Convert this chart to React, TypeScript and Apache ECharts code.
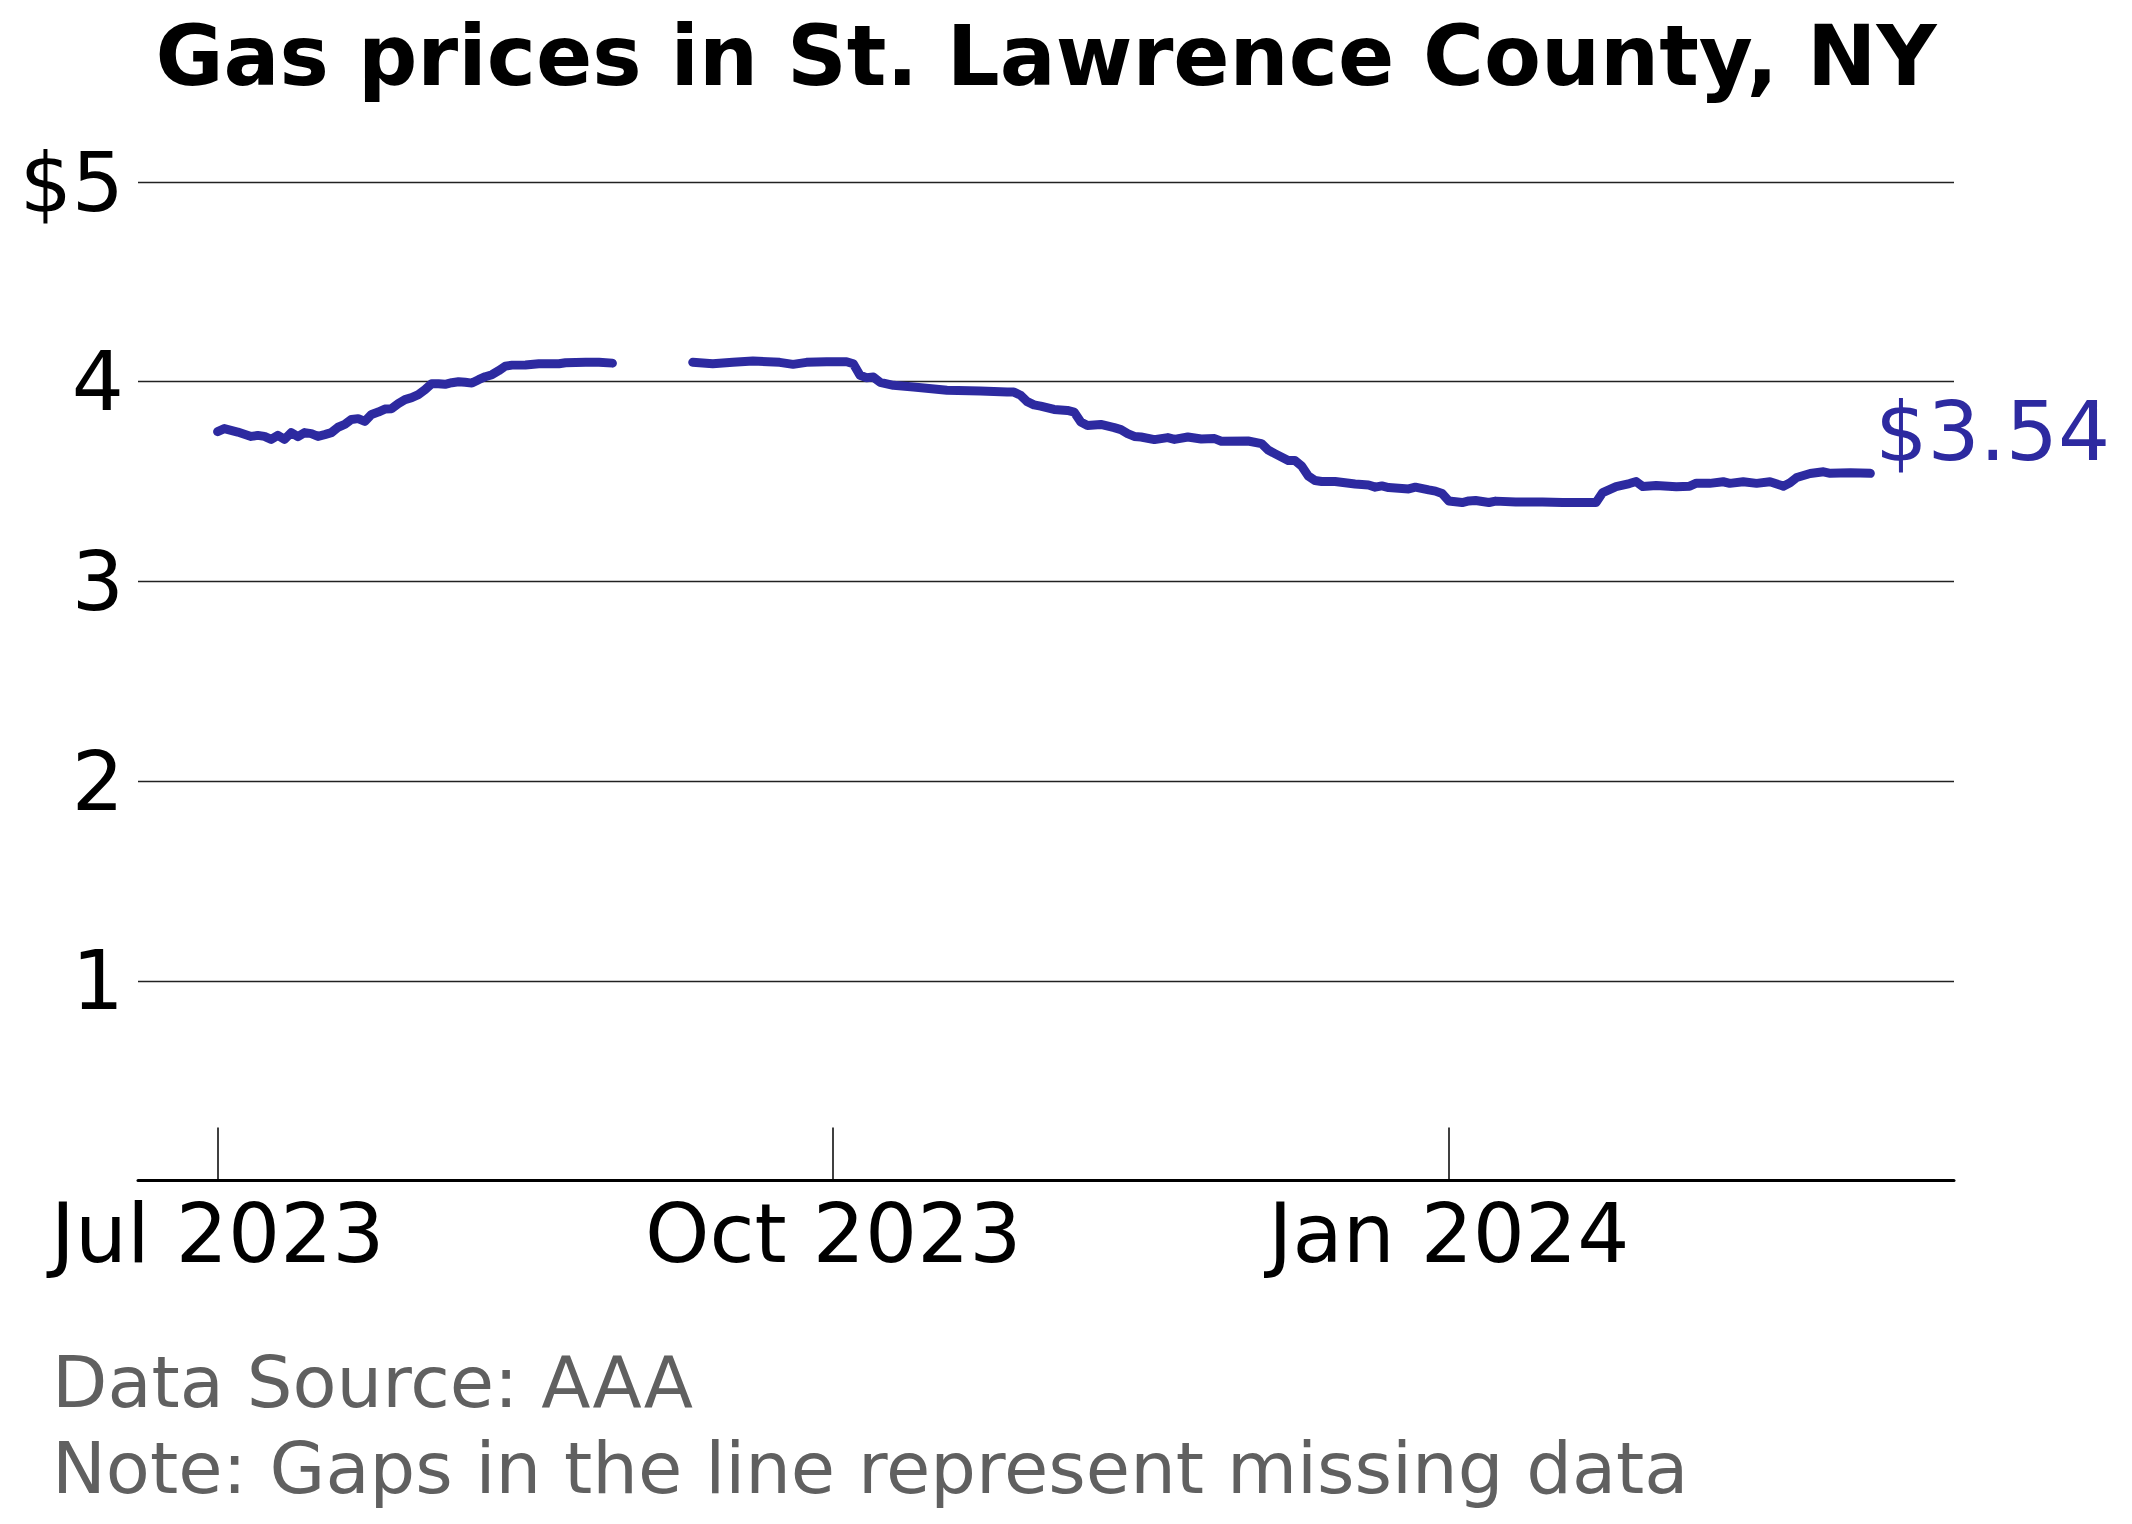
import React, { useEffect, useRef } from "react";
import * as echarts from "echarts";

// daily readings (gap between Aug 29 and Sep 10 = missing data)
const dates = [
  "2023-07-01", "2023-07-02", "2023-07-04", "2023-07-06", "2023-07-07", "2023-07-08",
  "2023-07-09", "2023-07-10", "2023-07-11", "2023-07-12", "2023-07-13", "2023-07-14",
  "2023-07-15", "2023-07-16", "2023-07-17", "2023-07-18", "2023-07-19", "2023-07-20",
  "2023-07-21", "2023-07-22", "2023-07-23", "2023-07-24", "2023-07-25", "2023-07-26",
  "2023-07-27", "2023-07-28", "2023-07-29", "2023-07-30", "2023-07-31", "2023-08-01",
  "2023-08-02", "2023-08-03", "2023-08-04", "2023-08-05", "2023-08-06", "2023-08-07",
  "2023-08-08", "2023-08-09", "2023-08-10", "2023-08-11", "2023-08-12", "2023-08-13",
  "2023-08-14", "2023-08-16", "2023-08-18", "2023-08-21", "2023-08-22", "2023-08-25",
  "2023-08-27", "2023-08-29",
  "2023-09-04",
  "2023-09-10", "2023-09-13", "2023-09-16", "2023-09-19", "2023-09-23", "2023-09-25",
  "2023-09-27", "2023-09-30", "2023-10-03", "2023-10-04", "2023-10-05", "2023-10-06",
  "2023-10-07", "2023-10-08", "2023-10-10", "2023-10-13", "2023-10-18", "2023-10-23",
  "2023-10-27", "2023-10-28", "2023-10-29", "2023-10-30", "2023-10-31", "2023-11-01",
  "2023-11-03", "2023-11-05", "2023-11-06", "2023-11-07", "2023-11-08", "2023-11-10",
  "2023-11-12", "2023-11-13", "2023-11-14", "2023-11-15", "2023-11-16", "2023-11-18",
  "2023-11-20", "2023-11-21", "2023-11-23", "2023-11-25", "2023-11-27", "2023-11-28",
  "2023-12-02", "2023-12-04", "2023-12-05", "2023-12-06", "2023-12-08", "2023-12-09",
  "2023-12-10", "2023-12-11", "2023-12-12", "2023-12-13", "2023-12-15", "2023-12-18",
  "2023-12-20", "2023-12-21", "2023-12-22", "2023-12-23", "2023-12-26", "2023-12-27",
  "2023-12-29", "2023-12-30", "2023-12-31", "2024-01-01", "2024-01-03", "2024-01-04",
  "2024-01-05", "2024-01-07", "2024-01-08", "2024-01-11", "2024-01-15", "2024-01-18",
  "2024-01-23", "2024-01-24", "2024-01-25", "2024-01-26", "2024-01-28", "2024-01-29",
  "2024-01-30", "2024-02-01", "2024-02-04", "2024-02-06", "2024-02-07", "2024-02-09",
  "2024-02-11", "2024-02-12", "2024-02-14", "2024-02-16", "2024-02-18", "2024-02-20",
  "2024-02-21", "2024-02-22", "2024-02-24", "2024-02-26", "2024-02-27", "2024-03-01",
  "2024-03-04",
];

const prices: (number | null)[] = [
  3.75, 3.765, 3.748, 3.726, 3.731, 3.726,
  3.711, 3.731, 3.711, 3.745, 3.725, 3.745,
  3.74, 3.726, 3.735, 3.745, 3.772, 3.786,
  3.811, 3.815, 3.801, 3.836, 3.848, 3.863,
  3.865, 3.89, 3.91, 3.92, 3.935, 3.96,
  3.99, 3.99, 3.987, 3.995, 4.0, 3.997,
  3.993, 4.01, 4.025, 4.035, 4.055, 4.078,
  4.083, 4.084, 4.09, 4.09, 4.095, 4.098,
  4.097, 4.093,
  null,
  4.097, 4.09, 4.097, 4.104, 4.097, 4.087,
  4.097, 4.1, 4.1, 4.09, 4.032, 4.02,
  4.023, 3.997, 3.982, 3.973, 3.957, 3.953,
  3.948, 3.948, 3.932, 3.9, 3.884, 3.878,
  3.861, 3.856, 3.848, 3.798, 3.781, 3.786,
  3.77, 3.76, 3.74, 3.726, 3.723, 3.71,
  3.72, 3.711, 3.723, 3.713, 3.715, 3.702,
  3.703, 3.69, 3.658, 3.64, 3.605, 3.605,
  3.578, 3.528, 3.505, 3.5, 3.5, 3.488,
  3.483, 3.472, 3.478, 3.47, 3.463, 3.472,
  3.458, 3.452, 3.44, 3.403, 3.395, 3.403,
  3.405, 3.395, 3.402, 3.397, 3.398, 3.395,
  3.395, 3.445, 3.46, 3.475, 3.49, 3.5,
  3.475, 3.48, 3.474, 3.477, 3.492, 3.491,
  3.499, 3.491, 3.499, 3.491, 3.499, 3.477,
  3.494, 3.52, 3.54, 3.549, 3.541, 3.544,
  3.541,
];

const tickDates = ["2023-07-01", "2023-10-01", "2024-01-01"];
const tickLabels = ["Jul 2023", "Oct 2023", "Jan 2024"];
const yTicks = [0, 1, 2, 3, 4, 5];

const DAY = 86400000;
const FONT = "DejaVu Sans";
const LINE_COLOR = "#2d2aa0";

const App: React.FC = () => {
  const chartRef = useRef<HTMLDivElement>(null);

  useEffect(() => {
    const chart = echarts.init(chartRef.current!, null, { renderer: "svg" });
    const tickValues = tickDates.map((d) => Date.parse(d));
    const first = Date.parse(dates[0]);

    chart.setOption({
      animation: false,
      backgroundColor: "#ffffff",
      grid: { left: 138, right: 178, top: 182, bottom: 343.5 },
      xAxis: {
        type: "value",
        min: first - 11.9 * DAY,
        max: first + 259.5 * DAY,
        axisLine: { show: true, lineStyle: { color: "#000", width: 3 } },
        axisTick: {
          show: true,
          inside: true,
          length: 53,
          lineStyle: { color: "#000", width: 1.5 },
          customValues: tickValues,
        },
        axisLabel: {
          customValues: tickValues,
          formatter: (v: number) => tickLabels[tickValues.indexOf(v)] ?? "",
          fontFamily: FONT,
          fontSize: 82,
          color: "#000",
          margin: 12,
        },
        splitLine: { show: false },
      },
      yAxis: {
        type: "value",
        min: yTicks[0],
        max: yTicks[yTicks.length - 1],
        interval: 1,
        axisLine: { show: false },
        axisTick: { show: false },
        axisLabel: {
          formatter: (v: number) => (v === 0 ? "" : v === 5 ? "$" + v : String(v)),
          fontFamily: FONT,
          fontSize: 82,
          color: "#000",
          margin: 14,
        },
        splitLine: { lineStyle: { color: "#222", width: 1.4 } },
      },
      series: [
        {
          type: "line",
          data: dates.map((d, i) => [Date.parse(d), prices[i]]),
          connectNulls: false,
          showSymbol: false,
          symbol: "none",
          lineStyle: { color: LINE_COLOR, width: 9, cap: "round", join: "round" },
          endLabel: {
            show: true,
            formatter: (p: any) => "$" + Number(p.value[1]).toFixed(2),
            color: LINE_COLOR,
            fontFamily: FONT,
            fontSize: 82,
            distance: 0,
            offset: [5, -42],
            align: "left",
            verticalAlign: "middle",
          },
        },
      ],
      graphic: [
        {
          type: "text",
          x: 1046,
          y: 56,
          style: {
            text: "Gas prices in St. Lawrence County, NY",
            fontFamily: FONT,
            fontWeight: "bold",
            fontSize: 83,
            fill: "#000",
            align: "center",
            verticalAlign: "middle",
          },
        },
        {
          type: "text",
          x: 52,
          y: 1382,
          style: {
            text: "Data Source: AAA",
            fontFamily: FONT,
            fontSize: 72,
            fill: "#606060",
            align: "left",
            verticalAlign: "middle",
          },
        },
        {
          type: "text",
          x: 52,
          y: 1468,
          style: {
            text: "Note: Gaps in the line represent missing data",
            fontFamily: FONT,
            fontSize: 72,
            fill: "#606060",
            align: "left",
            verticalAlign: "middle",
          },
        },
      ],
    });

    return () => {
      chart.dispose();
    };
  }, []);

  return (
    <div
      ref={chartRef}
      style={{ position: "fixed", left: 0, top: 0, width: "2132px", height: "1524px", background: "#fff" }}
    ></div>
  );
};

export default App;
